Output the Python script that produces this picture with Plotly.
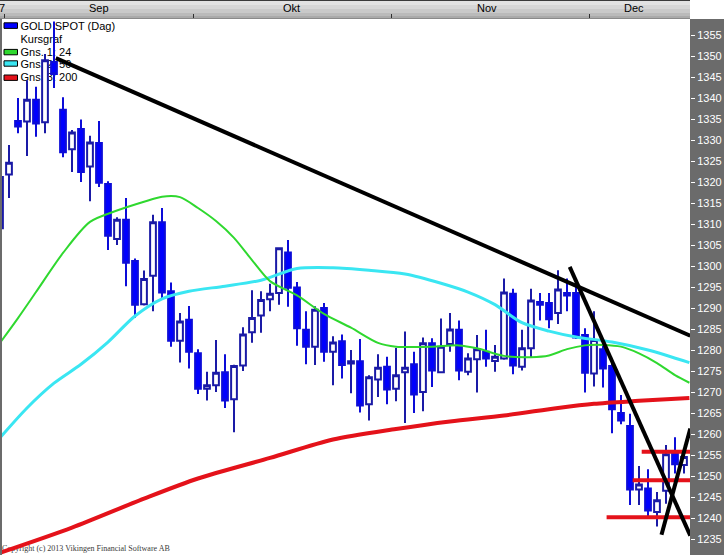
import plotly.graph_objects as go

# ---------------- data ----------------
opens = [1309.0, 1321.8, 1334.5, 1334.4, 1339.6, 1334.2, 1348.6, 1337.2, 1327.8, 1332.6,
         1323.7, 1329.3, 1319.5, 1306.4, 1311.0, 1301.2, 1290.9, 1297.7, 1310.4, 1294.0,
         1282.2, 1287.2, 1279.2, 1270.8, 1271.6, 1274.7, 1268.3, 1276.3, 1284.2, 1288.2,
         1292.1, 1293.6, 1303.2, 1294.9, 1284.8, 1280.8, 1290.0, 1279.6, 1282.1, 1276.8,
         1277.3, 1267.1, 1273.0, 1276.0, 1270.8, 1274.7, 1276.6, 1270.0, 1281.6, 1274.7,
         1281.4, 1284.8, 1274.8, 1277.8, 1279.6, 1277.4, 1278.0, 1293.4, 1276.0, 1280.4,
         1291.4, 1291.2, 1288.8, 1293.6, 1293.6, 1283.6, 1274.4, 1280.2, 1276.2, 1265.0,
         1261.9, 1246.8, 1247.0, 1241.4, 1246.5, 1255.4, 1252.6]
highs = [1324.0, 1328.8, 1340.0, 1344.2, 1342.7, 1350.5, 1358.2, 1340.2, 1332.4, 1334.9,
         1331.0, 1334.5, 1320.2, 1311.6, 1316.2, 1301.8, 1298.9, 1312.2, 1313.8, 1296.1,
         1288.8, 1290.5, 1280.2, 1274.8, 1282.4, 1279.0, 1276.5, 1285.4, 1294.2, 1294.0,
         1295.8, 1304.4, 1306.2, 1296.2, 1289.2, 1290.4, 1291.2, 1283.3, 1283.7, 1280.0,
         1282.6, 1274.0, 1279.0, 1278.4, 1280.5, 1284.4, 1279.6, 1283.0, 1282.8, 1287.5,
         1288.8, 1287.0, 1279.2, 1283.6, 1284.8, 1281.2, 1297.0, 1294.6, 1284.8, 1294.6,
         1293.6, 1293.6, 1299.0, 1297.0, 1296.7, 1285.2, 1289.2, 1281.6, 1276.8, 1269.3,
         1264.8, 1252.4, 1251.6, 1246.2, 1257.4, 1259.2, 1256.6]
lows = [1304.0, 1316.2, 1331.6, 1326.2, 1330.8, 1331.6, 1342.4, 1325.9, 1322.4, 1320.0,
        1315.4, 1318.8, 1303.8, 1305.0, 1295.2, 1287.7, 1290.6, 1289.2, 1291.9, 1280.8,
        1277.0, 1275.6, 1269.5, 1268.0, 1270.0, 1266.2, 1260.4, 1275.0, 1281.7, 1284.1,
        1289.2, 1290.8, 1290.3, 1281.0, 1276.6, 1276.4, 1277.2, 1271.6, 1273.2, 1269.7,
        1265.1, 1263.2, 1268.8, 1267.1, 1267.8, 1262.6, 1265.0, 1265.4, 1271.2, 1274.5,
        1279.6, 1272.8, 1274.0, 1269.9, 1276.0, 1274.8, 1277.7, 1274.2, 1275.1, 1278.3,
        1287.0, 1285.2, 1286.2, 1289.2, 1282.6, 1269.9, 1271.3, 1271.1, 1260.2, 1262.3,
        1243.1, 1243.1, 1240.5, 1238.0, 1243.4, 1250.6, 1250.6]
closes = [1321.2, 1324.6, 1333.2, 1339.6, 1333.9, 1349.0, 1345.7, 1327.1, 1331.8, 1322.4,
          1329.4, 1319.8, 1307.2, 1311.0, 1300.8, 1290.8, 1296.9, 1310.4, 1293.7, 1282.2,
          1286.8, 1279.6, 1270.8, 1271.6, 1274.6, 1268.0, 1276.2, 1283.7, 1287.6, 1291.9,
          1293.4, 1304.2, 1294.8, 1285.2, 1280.8, 1289.6, 1279.6, 1281.8, 1276.4, 1277.3,
          1266.8, 1273.5, 1275.8, 1270.6, 1274.0, 1275.8, 1269.4, 1281.6, 1275.1, 1280.8,
          1284.9, 1275.1, 1278.0, 1280.2, 1278.0, 1278.4, 1293.7, 1276.3, 1280.4, 1291.8,
          1290.8, 1287.3, 1294.4, 1293.0, 1283.0, 1274.6, 1282.4, 1275.6, 1265.9, 1263.2,
          1246.8, 1248.0, 1241.8, 1244.2, 1255.2, 1252.8, 1254.5]
day_index = list(range(len(opens)))

month_labels = ["Sep", "Okt", "Nov", "Dec"]
month_label_pos = [11.0, 32.4, 54.1, 70.4]
month_bounds = [0.45, 21.5, 43.5, 65.5]

ma24_x = [0, 2, 4, 7, 10, 13, 16, 18, 20, 22, 24, 26, 28, 30, 33, 36, 39, 42, 44, 48, 51,
          53, 56, 59, 61, 63, 65, 67, 69, 71, 73, 75, 76.6]
ma24_y = [1281.7, 1287.6, 1293.8, 1303.1, 1310.5, 1313.2, 1315.3, 1316.5, 1316.4, 1313.8,
          1310.7, 1306.7, 1301.4, 1296.4, 1293.0, 1288.6, 1285.3, 1281.7, 1280.8, 1280.8,
          1281.1, 1280.4, 1278.6, 1278.3, 1278.7, 1280.2, 1281.1, 1281.2, 1280.8, 1279.2,
          1276.9, 1274.0, 1272.2]
ma50_x = [0, 3, 6, 9, 12, 15, 18, 21, 25, 29, 33, 37, 41, 45, 49, 52, 55, 58, 61, 64, 68,
          72, 76.6]
ma50_y = [1259.1, 1266.2, 1272.1, 1276.6, 1281.9, 1288.1, 1292.2, 1294.0, 1295.2, 1296.6,
          1299.4, 1299.6, 1299.0, 1298.1, 1295.9, 1293.8, 1290.8, 1286.5, 1284.5, 1283.1,
          1281.9, 1280.0, 1277.0]
ma200_x = [0, 8, 16, 22, 30, 37, 44, 50, 56, 62, 66, 71, 76.6]
ma200_y = [1231.7, 1237.7, 1244.6, 1249.4, 1254.3, 1258.7, 1261.2, 1263.0, 1264.4, 1266.2,
           1267.2, 1267.9, 1268.6]

trend_long_x = [6.2, 76.7]
trend_long_y = [1349.5, 1283.4]
trend_steep_x = [63.3, 76.7]
trend_steep_y = [1299.8, 1235.8]
trend_up_x = [73.5, 76.7]
trend_up_y = [1236.0, 1261.3]
support_levels = [1255.8, 1249.0, 1240.2]
support_start = [71.3, 70.3, 67.4]
support_end = [76.7, 76.7, 76.7]

y_ticks = list(range(1235, 1360, 5))

legend_names = ["GOLD SPOT (Dag)", "Kursgraf", "Gns. 1: 24", "Gns. 2: 50", "Gns. 3: 200"]
legend_colors = ["#0000ff", None, "#2fd82f", "#3ae6f2", "#e4121a"]
copyright_text = "Copyright (c) 2013 Vikingen Financial Software AB"

# ---------------- layout geometry ----------------
W, H = 724, 555
ML, MR, MT, MB = 2, 34, 19, 0
PW, PH = W - ML - MR, H - MT - MB
X_RANGE = [ML / 9.0, (W - MR) / 9.0]          # candle index range
Y_RANGE = [1355 - (555 - 35) / 4.2, 1355 + (35 - MT) / 4.2]


def px(xp):
    return (xp - ML) / PW


def py(yp):
    return (H - MB - yp) / PH


GREEN, CYAN, RED = legend_colors[2], legend_colors[3], legend_colors[4]

fig = go.Figure()

# base layer (below candles): legend texts + copyright
leg_y = [27.0, 40.6, 53.6, 64.9, 78.6]
fig.add_trace(go.Scatter(
    x=[20.5] * len(legend_names), y=leg_y, text=legend_names, mode="text",
    textposition="middle right", textfont=dict(family="Liberation Sans", size=11, color="black"),
    xaxis="x", yaxis="y", hoverinfo="skip", showlegend=False, cliponaxis=False))
fig.add_trace(go.Scatter(
    x=[2.0], y=[548.5], text=[copyright_text], mode="text", textposition="middle right",
    textfont=dict(family="Liberation Serif", size=8, color="#3a3a3a"),
    xaxis="x", yaxis="y", hoverinfo="skip", showlegend=False, cliponaxis=False))

# candles
fig.add_trace(go.Candlestick(
    x=day_index, open=opens, high=highs, low=lows, close=closes,
    increasing=dict(line=dict(color="#1a1aa6", width=2), fillcolor="white"),
    decreasing=dict(line=dict(color="#0c0cd8", width=2), fillcolor="#0000ff"),
    whiskerwidth=0, xaxis="x2", yaxis="y2", hoverinfo="skip", showlegend=False))

# moving averages
for xs, ys, col, wd in [(ma200_x, ma200_y, RED, 4), (ma50_x, ma50_y, CYAN, 3),
                        (ma24_x, ma24_y, GREEN, 2)]:
    fig.add_trace(go.Scatter(x=xs, y=ys, mode="lines",
                             line=dict(color=col, width=wd, shape="spline", smoothing=0.8),
                             xaxis="x2", yaxis="y2", hoverinfo="skip", showlegend=False))

# support lines
for lvl, s, e in zip(support_levels, support_start, support_end):
    fig.add_trace(go.Scatter(x=[s, e], y=[lvl, lvl], mode="lines",
                             line=dict(color=RED, width=4), xaxis="x2", yaxis="y2",
                             hoverinfo="skip", showlegend=False))

# trend lines
for xs, ys in [(trend_long_x, trend_long_y), (trend_steep_x, trend_steep_y),
               (trend_up_x, trend_up_y)]:
    fig.add_trace(go.Scatter(x=xs, y=ys, mode="lines", line=dict(color="black", width=4),
                             xaxis="x2", yaxis="y2", hoverinfo="skip", showlegend=False))

shapes = []
# header bar gradient
strips = [(0, 1, "#3a3a3a"), (1, 5, "#e2e2e2"), (5, 9, "#d6d6d6"), (9, 13, "#c9c9c9"),
          (13, 16, "#bababa"), (16, 18, "#aaaaaa"), (18, 19, "#8a8a8a")]
for y0, y1, c in strips:
    shapes.append(dict(type="rect", xref="paper", yref="paper", x0=px(0), x1=px(W - MR),
                       y0=py(y1), y1=py(y0), fillcolor=c, line=dict(width=0), layer="below"))
shapes.append(dict(type="rect", xref="paper", yref="paper", x0=px(W - MR), x1=px(W + 2),
                   y0=py(MT), y1=py(-2), fillcolor="white", line=dict(width=0), layer="below"))
# legend swatches
sw_rows = [(22.8, 28.4, legend_colors[0]), (49.4, 54.8, GREEN), (60.8, 66.2, CYAN),
           (75.0, 80.4, RED)]
for y0, y1, c in sw_rows:
    shapes.append(dict(type="rect", xref="x", yref="y", x0=4, x1=17.5, y0=y0, y1=y1,
                       fillcolor=c, line=dict(color="black", width=1), layer="above"))

annotations = []
for lab, pos in zip(month_labels, month_label_pos):
    annotations.append(dict(text=lab, x=pos, y=py(8), xref="x2", yref="paper",
                            showarrow=False, xanchor="center", yanchor="middle",
                            font=dict(family="Liberation Sans", size=11, color="black")))
annotations.append(dict(text="7", x=px(1.5), y=py(8), xref="paper", yref="paper",
                        showarrow=False, xanchor="center", yanchor="middle",
                        font=dict(family="Liberation Sans", size=11, color="black")))

fig.update_layout(
    width=W, height=H, margin=dict(l=ML, r=MR, t=MT, b=MB, pad=0),
    paper_bgcolor="#6b6b6b", plot_bgcolor="white",
    boxgap=0.36, boxgroupgap=0, showlegend=False,
    shapes=shapes, annotations=annotations,
    xaxis=dict(range=[ML, W - MR], visible=False, fixedrange=True,
               rangeslider=dict(visible=False), anchor="y"),
    yaxis=dict(range=[H - MB, MT], visible=False, fixedrange=True, anchor="x"),
    xaxis2=dict(range=X_RANGE, overlaying="x", side="top", anchor="y2",
                tickvals=month_bounds, ticks="outside", ticklen=4, tickwidth=1,
                tickcolor="#303030", showticklabels=False, showgrid=False,
                zeroline=False, showline=False, rangeslider=dict(visible=False)),
    yaxis2=dict(range=Y_RANGE, overlaying="y", side="right", anchor="x2",
                tickvals=y_ticks, ticks="outside", ticklen=4, tickwidth=1,
                tickcolor="white", showgrid=False, zeroline=False, showline=False,
                tickfont=dict(family="Liberation Sans", size=11, color="white")),
)

fig.write_html("out.html", config={"displayModeBar": False},
               post_script="document.body.style.margin='0px';document.body.style.overflow='hidden';")
